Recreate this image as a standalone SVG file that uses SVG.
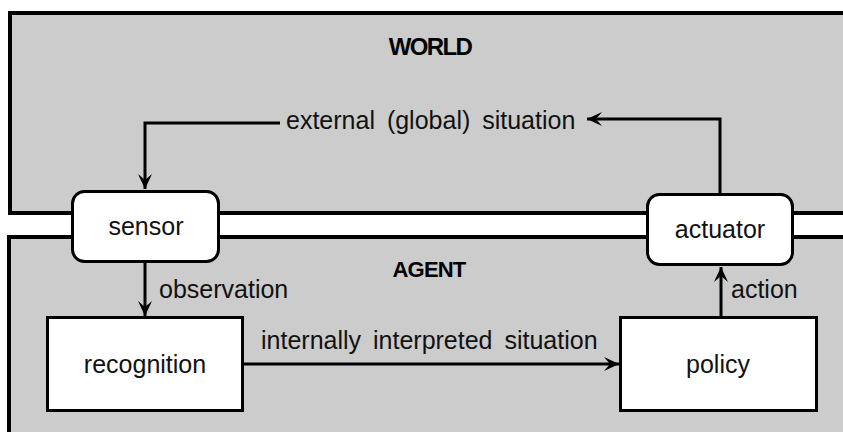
<svg xmlns="http://www.w3.org/2000/svg" width="843" height="432" viewBox="0 0 843 432">
<style>
.region{fill:#cccccc;stroke:#000;stroke-width:4}
.box{fill:#fff;stroke:#000;stroke-width:3}
.lbl{font-family:"Liberation Sans",Arial,sans-serif;font-size:25px;fill:#111;word-spacing:5px}
.title{font-family:"Liberation Sans",Arial,sans-serif;font-weight:bold;fill:#000}
.edge{fill:none;stroke:#000;stroke-width:3}
</style>
<defs>
<marker id="arr" markerUnits="userSpaceOnUse" viewBox="-16 -8 18 16" refX="0" refY="0" markerWidth="18" markerHeight="16" orient="auto">
<path d="M0,0 L-15,-7 L-9,0 L-15,7 Z" fill="#000"/>
</marker>
</defs>
<rect width="843" height="432" fill="#fff"/>
<g id="world">
<rect class="region" x="10" y="13" width="900" height="200"/>
<text class="title" x="430" y="55" text-anchor="middle" font-size="24" letter-spacing="-1.6">WORLD</text>
</g>
<g id="agent">
<rect class="region" x="9" y="237" width="900" height="260"/>
<text class="title" x="429" y="277" text-anchor="middle" font-size="22" letter-spacing="-0.8">AGENT</text>
</g>
<g id="connectors">
<polyline class="edge" points="720,193 720,119 587,119" marker-end="url(#arr)"/>
<polyline class="edge" points="280,123 145,123 145,189" marker-end="url(#arr)"/>
<line class="edge" x1="145" y1="263" x2="145" y2="316" marker-end="url(#arr)"/>
<line class="edge" x1="243" y1="364" x2="619" y2="364" marker-end="url(#arr)"/>
<line class="edge" x1="721" y1="317" x2="721" y2="267" marker-end="url(#arr)"/>
<text class="lbl" x="286" y="129">external (global) situation</text>
<text class="lbl" x="159" y="298">observation</text>
<text class="lbl" x="261" y="349">internally interpreted situation</text>
<text class="lbl" x="731" y="298">action</text>
</g>
<g id="sensor">
<rect class="box" x="72.5" y="191.5" width="146" height="70" rx="12"/>
<text class="lbl" x="146" y="235" text-anchor="middle">sensor</text>
</g>
<g id="actuator">
<rect class="box" x="647.5" y="194.5" width="145" height="70" rx="12"/>
<text class="lbl" x="720" y="238" text-anchor="middle">actuator</text>
</g>
<g id="recognition">
<rect class="box" x="47.5" y="317.5" width="195" height="93"/>
<text class="lbl" x="145" y="373" text-anchor="middle">recognition</text>
</g>
<g id="policy">
<rect class="box" x="620.5" y="317.5" width="196" height="93"/>
<text class="lbl" x="718" y="373" text-anchor="middle">policy</text>
</g>
</svg>
